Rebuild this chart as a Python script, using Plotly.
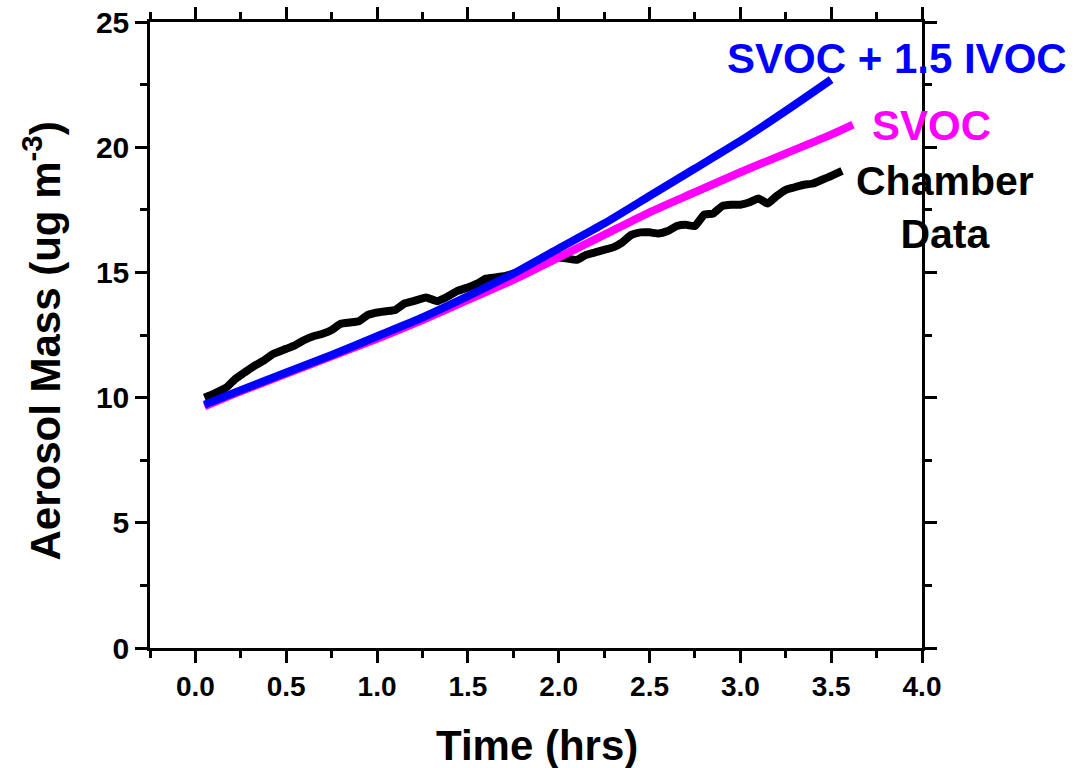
import plotly.graph_objects as go

# Model curves (time in hrs, aerosol mass in ug m-3)
svoc_ivoc_t = [0.05, 0.25, 0.5, 0.75, 1.0, 1.25, 1.5, 1.75, 2.0, 2.25, 2.5, 2.75, 3.0, 3.25, 3.5]
svoc_ivoc_m = [9.72, 10.3, 11.0, 11.7, 12.45, 13.2, 14.05, 14.95, 15.95, 16.95, 18.05, 19.15, 20.25, 21.45, 22.7]

svoc_t = [0.05, 0.25, 0.5, 0.75, 1.0, 1.25, 1.5, 1.75, 2.0, 2.25, 2.5, 2.75, 3.0, 3.25, 3.5, 3.62]
svoc_m = [9.65, 10.25, 10.95, 11.65, 12.35, 13.1, 13.9, 14.7, 15.6, 16.5, 17.4, 18.2, 19.0, 19.75, 20.5, 20.9]

chamber_t = [0.05, 0.10, 0.17, 0.22, 0.27, 0.32, 0.38, 0.43, 0.50, 0.55, 0.60, 0.65, 0.70, 0.75,
             0.80, 0.85, 0.90, 0.95, 1.00, 1.05, 1.10, 1.15, 1.20, 1.27, 1.33, 1.38, 1.44, 1.50,
             1.55, 1.60, 1.65, 1.70, 1.75, 1.80, 1.85, 1.90, 1.95, 2.00, 2.05, 2.10, 2.15, 2.20,
             2.25, 2.30, 2.35, 2.40, 2.45, 2.50, 2.55, 2.60, 2.65, 2.70, 2.75, 2.80, 2.85, 2.90,
             2.95, 3.00, 3.05, 3.10, 3.15, 3.20, 3.25, 3.30, 3.35, 3.40, 3.45, 3.50, 3.56]
chamber_m = [10.0, 10.15, 10.4, 10.75, 11.0, 11.25, 11.5, 11.75, 11.95, 12.1, 12.3, 12.45, 12.55, 12.7,
             12.95, 13.0, 13.05, 13.3, 13.4, 13.45, 13.5, 13.75, 13.85, 14.0, 13.85, 14.0, 14.25, 14.4,
             14.55, 14.75, 14.8, 14.85, 14.95, 15.05, 15.2, 15.4, 15.55, 15.6, 15.55, 15.5, 15.7, 15.8,
             15.9, 16.0, 16.2, 16.5, 16.6, 16.6, 16.55, 16.65, 16.85, 16.9, 16.85, 17.3, 17.35, 17.65,
             17.7, 17.7, 17.8, 17.95, 17.75, 18.05, 18.3, 18.4, 18.5, 18.55, 18.7, 18.85, 19.05]

FONT = "Liberation Sans, Arial, sans-serif"
LW = 8

fig = go.Figure()
fig.add_trace(go.Scatter(x=chamber_t, y=chamber_m, mode="lines",
                         line=dict(color="#000000", width=LW, shape="spline", smoothing=0.4),
                         name="Chamber Data"))
fig.add_trace(go.Scatter(x=svoc_t, y=svoc_m, mode="lines",
                         line=dict(color="#FF00FF", width=LW, shape="spline", smoothing=0.6),
                         name="SVOC"))
fig.add_trace(go.Scatter(x=svoc_ivoc_t, y=svoc_ivoc_m, mode="lines",
                         line=dict(color="#0000FF", width=LW, shape="spline", smoothing=0.6),
                         name="SVOC + 1.5 IVOC"))

axis_common = dict(
    showline=True, linecolor="black", linewidth=2.5, mirror="allticks",
    ticks="outside", tickcolor="black", tickwidth=2.5, ticklen=12,
    showgrid=False, zeroline=False, automargin=False,
)

fig.update_xaxes(range=[-0.25, 4.0], tick0=0, dtick=0.5, tickformat=".1f",
                 minor=dict(ticks="outside", dtick=0.25, tick0=0, ticklen=7,
                            tickwidth=2.5, tickcolor="black", showgrid=False),
                 tickfont=dict(family=FONT, size=28, color="black", weight="bold"),
                 **axis_common)
fig.update_yaxes(range=[0, 25], tick0=0, dtick=5,
                 minor=dict(ticks="outside", dtick=2.5, tick0=0, ticklen=7,
                            tickwidth=2.5, tickcolor="black", showgrid=False),
                 tickfont=dict(family=FONT, size=30, color="black", weight="bold"),
                 **axis_common)

annots = [
    dict(text="Time (hrs)", x=0.501, y=-0.155, size=42, color="black", angle=0),
    dict(text="Aerosol Mass (ug m<sup>-3</sup>)", x=-0.14, y=0.491, size=42, color="black", angle=-90),
    dict(text="SVOC + 1.5 IVOC", x=0.968, y=0.942, size=42, color="#0000FF", angle=0),
    dict(text="SVOC", x=1.0123, y=0.834, size=42, color="#FF00FF", angle=0),
    dict(text="Chamber<br>Data", x=1.0298, y=0.703, size=41, color="black", angle=0),
]
for a in annots:
    fig.add_annotation(text=a["text"], x=a["x"], y=a["y"], xref="paper", yref="paper",
                       xanchor="center", yanchor="middle", showarrow=False,
                       textangle=a["angle"],
                       font=dict(family=FONT, size=a["size"], color=a["color"], weight="bold"))

fig.update_layout(
    width=1083, height=768,
    margin=dict(l=150, r=161, t=22, b=120, autoexpand=False),
    paper_bgcolor="white", plot_bgcolor="white",
    showlegend=False,
)

fig.write_html("out.html")
